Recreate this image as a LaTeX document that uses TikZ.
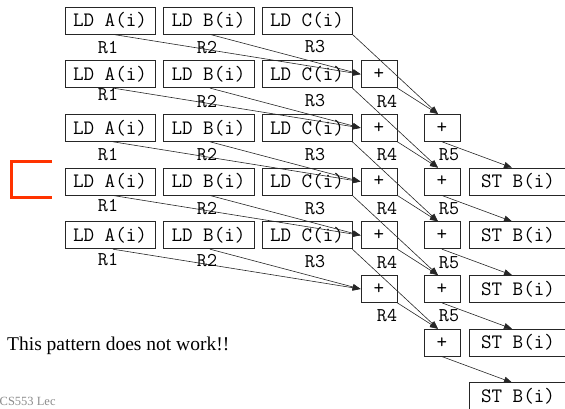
\documentclass[tikz,border=0pt]{standalone}
\usepackage{fontspec}
\setmainfont{Liberation Serif}
\usetikzlibrary{arrows.meta}
\definecolor{markred}{RGB}{255,51,0}
\definecolor{footgray}{RGB}{140,140,140}
\tikzset{
  op/.style={draw=black!85, line width=0.8pt, minimum height=27pt, inner sep=0pt,
             font=\ttfamily\fontsize{20.5}{20.5}\selectfont},
  ld/.style={op, minimum width=90pt},
  add/.style={op, minimum width=36pt},
  st/.style={op, minimum width=98pt},
  reg/.style={inner sep=0pt, font=\ttfamily\fontsize{19.5}{19.5}\selectfont},
  flow/.style={-{Triangle[length=8pt,width=6pt]}, line width=0.6pt, draw=black!85},
}
\begin{document}
\begin{tikzpicture}[x=1pt,y=1pt]
\useasboundingbox (0,0) rectangle (565,409);
\begin{scope}
\clip (0,0) rectangle (565,409);

% loads of iterations 0..4
\foreach \k in {0,...,4} {
  \pgfmathsetmacro\yy{388.5-53.7*\k}
  \node[ld] (A\k) at (110,\yy) {LD A(i)};
  \node[ld, minimum width=91pt] (B\k) at (208.5,\yy) {LD B(i)};
  \node[ld] (C\k) at (307,\yy) {LD C(i)};
}
% first adds
\foreach \k in {1,...,5} {
  \pgfmathsetmacro\yy{388.5-53.7*\k}
  \node[add] (P\k) at (379,\yy) {+};
}
% second adds
\foreach \k in {2,...,6} {
  \pgfmathsetmacro\yy{388.5-53.7*\k}
  \node[add] (Q\k) at (442,\yy) {+};
}
% stores
\foreach \k in {3,...,7} {
  \pgfmathsetmacro\yy{388.5-53.7*\k}
  \node[st] (S\k) at (518,\yy) {ST B(i)};
}

% dependences
\foreach \k [evaluate=\k as \n using int(\k+1),
             evaluate=\k as \m using int(\k+2),
             evaluate=\k as \s using int(\k+3)] in {0,...,4} {
  \draw[flow] ([xshift=3pt]A\k.south) -- (P\n.west);
  \draw[flow] ([xshift=1.5pt]B\k.south) -- (P\n.west);
  \draw[flow] (C\k.south east) -- ([xshift=-4pt]Q\m.north);
  \draw[flow] (P\n.south east) -- ([xshift=-4pt]Q\m.north);
  \draw[flow] (Q\m.south) -- ([xshift=-6pt]S\s.north);
}

% register names
\foreach \k/\d in {0/27,1/20.5,2/27,3/23.5,4/24} {
  \node[reg] (ra\k) at ([shift={(-2pt,-\d pt)}]A\k.center) {R1};
}
\foreach \k/\d in {0/27,1/27.5,2/26.5,3/26.5,4/25} {
  \node[reg] (rb\k) at ([shift={(-1.5pt,-\d pt)}]B\k.center) {R2};
}
\foreach \k in {0,...,4} {
  \node[reg] (rc\k) at ([shift={(8pt,-26.5pt)}]C\k.center) {R3};
}
\foreach \k in {1,...,5} {
  \node[reg] (rp\k) at ([shift={(8pt,-27pt)}]P\k.center) {R4};
}
\foreach \k in {2,...,5} {
  \node[reg] (rq\k) at ([shift={(7pt,-27pt)}]Q\k.center) {R5};
}

% marker bracket
\draw[markred, line width=3pt, line join=miter] (52,247) -- (11,247) -- (11,211) -- (52,211);

\node[anchor=base west, inner sep=0pt, font=\fontsize{19.5}{19.5}\selectfont] (msg) at (7,58)
  {This pattern does not work!!};
\node[anchor=base west, inner sep=0pt, text=footgray, font=\fontsize{12.5}{12.5}\selectfont] (foot) at (-0.5,3)
  {CS553 Lec};
\end{scope}
\end{tikzpicture}
\end{document}
